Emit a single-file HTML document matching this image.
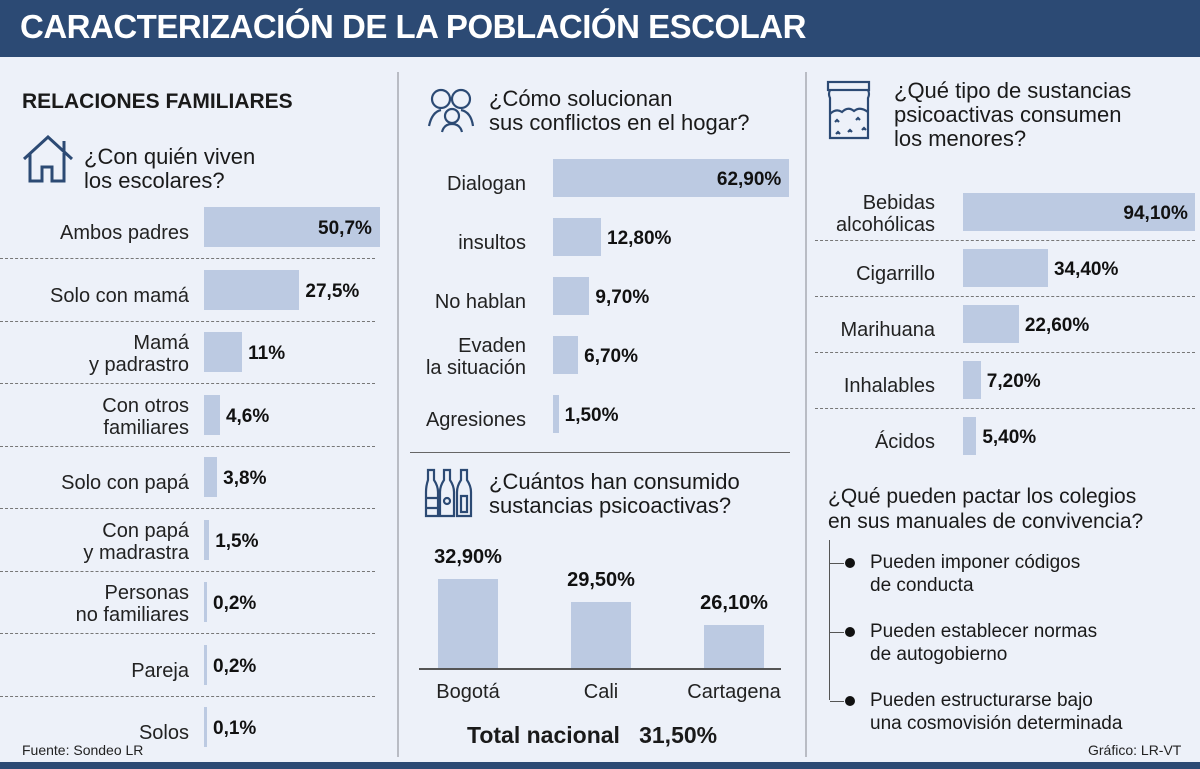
<!DOCTYPE html>
<html><head><meta charset="utf-8">
<style>
body{margin:0;width:1200px;height:769px;background:#edf1f9;position:relative;overflow:hidden;font-family:"Liberation Sans",sans-serif;color:#1a1a1a}
.a{position:absolute}
.hdr{left:0;top:0;width:1200px;height:57px;background:#2c4a74}
.title{left:20px;top:8px;color:#fff;font-weight:bold;font-size:33px;letter-spacing:-0.5px;white-space:nowrap}
.foot{left:0;top:762px;width:1200px;height:7px;background:#2c4a74}
.vdiv{width:2px;background:#b9bcc4}
.q{font-size:22px;line-height:24px;color:#1a1a1a}
.lbl{font-size:20px;line-height:22px;text-align:right;color:#222}
.val{font-family:"Liberation Sans Narrow","Liberation Sans",sans-serif;font-weight:bold;font-size:19px;color:#111;white-space:nowrap}
.bar{background:#bccae2}
.dash{height:0;border-top:1.5px dashed #777}
.src{font-size:14px;color:#222}
</style></head><body>
<div class="a hdr"></div>
<div class="a title">CARACTERIZACIÓN DE LA POBLACIÓN ESCOLAR</div>
<div class="a vdiv" style="left:397px;top:72px;height:685px"></div>
<div class="a vdiv" style="left:805px;top:72px;height:685px"></div>
<div class="a foot"></div>

<div class="a" style="left:22px;top:90px;font-weight:bold;font-size:21px">RELACIONES FAMILIARES</div>
<svg class="a" style="left:22px;top:135px" width="52" height="48"><path d="M2 24 L26 2 L50 24 M42 16 V6 M8 18 V46 H20 V32 H30 V46 H42 V18" fill="none" stroke="#2c4a74" stroke-width="3"/></svg>
<div class="a q" style="left:84px;top:145px">¿Con quién viven<br>los escolares?</div>

<svg class="a" style="left:426px;top:86px" width="52" height="48"><g fill="none" stroke="#2c4a74" stroke-width="2.2"><circle cx="15" cy="13" r="9"/><circle cx="35" cy="13" r="9"/><circle cx="26" cy="30" r="7"/><path d="M3 40 Q6 26 15 24 M47 40 Q45 26 35 24 M16 46 Q18 38 26 38 Q34 38 36 46"/></g></svg>
<div class="a q" style="left:489px;top:87px">¿Cómo solucionan<br>sus conflictos en el hogar?</div>

<svg class="a" style="left:826px;top:80px" width="46" height="62"><g fill="none" stroke="#2c4a74" stroke-width="2.2"><rect x="2" y="2" width="41" height="8"/><path d="M4 10 Q2 14 4 18 V58 H42 V18 Q44 14 42 10"/><path d="M4 34 Q10 28 16 32 Q22 26 28 31 Q34 26 42 32"/><path d="M9 42 l2 -2 l2 2 M30 40 l2-2 l2 2 M10 54 l2 -2 l2 2 M22 52 l2-2 l2 2 M36 50 l2-2 l2 2"/></g></svg>
<div class="a q" style="left:894px;top:79px">¿Qué tipo de sustancias<br>psicoactivas consumen<br>los menores?</div>

<div class="a" style="left:410px;top:452px;width:380px;height:1px;background:#666"></div>
<svg class="a" style="left:424px;top:468px" width="52" height="50"><g fill="none" stroke="#2c4a74" stroke-width="2.2"><path d="M4 2 H10 V12 Q14 18 14 24 V48 H2 V24 Q2 18 4 12 Z M2 30 H14 M2 40 H14"/><path d="M20 2 H26 V12 Q30 18 30 24 V48 H16 V24 Q16 18 20 12 Z"/><circle cx="23" cy="33" r="3"/><path d="M37 2 H43 V12 Q47 18 47 24 V48 H33 V24 Q33 18 37 12 Z M37 28 H43 V44 H37 Z"/></g></svg>
<div class="a q" style="left:489px;top:470px">¿Cuántos han consumido<br>sustancias psicoactivas?</div>
<div class="a" style="left:419px;top:668px;width:362px;height:1.5px;background:#555"></div>
<div class="a" style="left:467px;top:722px;font-weight:bold;font-size:23px;white-space:nowrap">Total nacional&nbsp;&nbsp;&nbsp;31,50%</div>

<div class="a" style="left:828px;top:484px;font-size:21px;line-height:25px">¿Qué pueden pactar los colegios<br>en sus manuales de convivencia?</div>
<div class="a" style="left:829px;top:540px;width:1px;height:160px;background:#555"></div>

<div class="a src" style="left:22px;top:742px">Fuente: Sondeo LR</div>
<div class="a src" style="left:1088px;top:742px">Gráfico: LR-VT</div>

<script>
const famLabels=["Ambos padres","Solo con mamá","Mamá<br>y padrastro","Con otros<br>familiares","Solo con papá","Con papá<br>y madrastra","Personas<br>no familiares","Pareja","Solos"];
const famValues=[50.7,27.5,11,4.6,3.8,1.5,0.2,0.2,0.1];
const famText=["50,7%","27,5%","11%","4,6%","3,8%","1,5%","0,2%","0,2%","0,1%"];
const conLabels=["Dialogan","insultos","No hablan","Evaden<br>la situación","Agresiones"];
const conValues=[62.9,12.8,9.7,6.7,1.5];
const conText=["62,90%","12,80%","9,70%","6,70%","1,50%"];
const subLabels=["Bebidas<br>alcohólicas","Cigarrillo","Marihuana","Inhalables","Ácidos"];
const subValues=[94.1,34.4,22.6,7.2,5.4];
const subText=["94,10%","34,40%","22,60%","7,20%","5,40%"];
const cityLabels=["Bogotá","Cali","Cartagena"];
const cityValues=[32.9,29.5,26.1];
const cityText=["32,90%","29,50%","26,10%"];
const pacts=["Pueden imponer códigos<br>de conducta","Pueden establecer normas<br>de autogobierno","Pueden estructurarse bajo<br>una cosmovisión determinada"];

function mk(cls,style,html,name){const d=document.createElement('div');d.className='a '+cls;d.style.cssText=style;if(html!=null)d.innerHTML=html;


document.body.appendChild(d);return d;}

function hbars(labels,values,texts,o){
  labels.forEach((l,i)=>{
    const cy=o.y0+i*o.step;
    const w=Math.max(values[i]*o.scale,3);
    mk('lbl',`right:${1200-o.labelRight}px;top:${cy-(l.includes('<br>')?20:5)}px;white-space:nowrap`,l,o.p+'-label');
    mk('bar',`left:${o.x0}px;top:${cy-o.h/2}px;width:${w}px;height:${o.h}px`,null,o.p+'-bar');
    const inside=values[i]===Math.max(...values);
    if(inside) mk('val',`left:${o.x0+w-72}px;top:${cy-9}px;width:64px;text-align:right`,texts[i],o.p+'-value');
    else mk('val',`left:${o.x0+w+6}px;top:${cy-9}px`,texts[i],o.p+'-value');
    if(o.dash && i<labels.length-1) mk('dash',`left:${o.dx}px;top:${cy+o.step/2}px;width:${o.dw}px`,null,o.p+'-separator');
  });
}
hbars(famLabels,famValues,famText,{p:'family',y0:227,step:62.5,x0:204,scale:3.47,h:40,labelRight:189,dash:true,dx:0,dw:375});
hbars(conLabels,conValues,conText,{p:'conflict',y0:178,step:59,x0:553,scale:3.75,h:38,labelRight:526,dash:false});
hbars(subLabels,subValues,subText,{p:'substance',y0:212,step:56,x0:963,scale:2.47,h:38,labelRight:935,dash:true,dx:815,dw:380});

// vertical chart: y-axis domain starts at ~19.8 (truncated axis in the original)
const base=668,yMin=19.8,bscale=6.8;
function yH(v){return (v-yMin)*bscale;}
cityLabels.forEach((c,i)=>{
  const x=438+i*133,h=yH(cityValues[i]);
  mk('bar',`left:${x}px;top:${base-h}px;width:60px;height:${h}px`,null,'city-bar');
  mk('val',`left:${x-6}px;top:${base-h-33}px;width:72px;text-align:center;font-size:20px`,cityText[i],'city-value');
  mk('lbl',`left:${x-40}px;top:${base+13}px;width:140px;text-align:center`,c,'city-label');
});
pacts.forEach((p,i)=>{
  const y=563+i*69;
  mk('','left:830px;top:'+y+'px;width:14px;height:1px;background:#555',null,'pact-tick');
  mk('','left:845px;top:'+(y-5)+'px;width:10px;height:10px;border-radius:50%;background:#111',null,'pact-bullet');
  mk('','left:870px;top:'+(y-12)+'px;font-size:19px;line-height:23px;white-space:nowrap',p,'pact-item');
});
</script>
</body></html>
